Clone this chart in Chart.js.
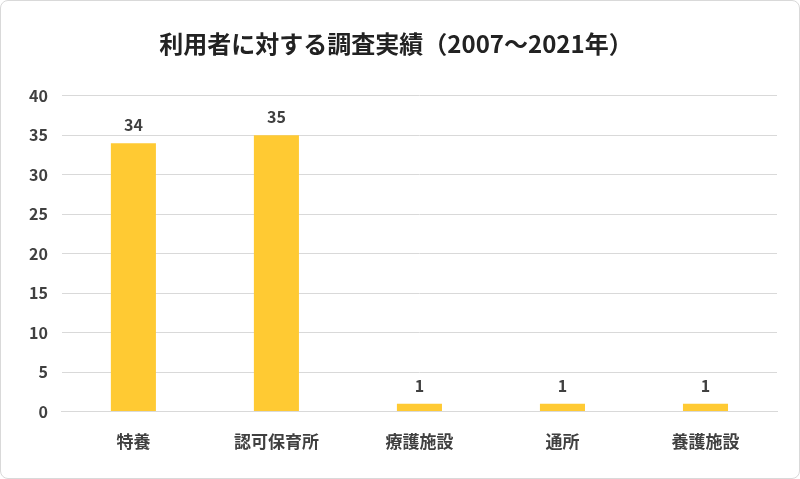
<!DOCTYPE html>
<html><head><meta charset="utf-8">
<script src="https://cdn.jsdelivr.net/npm/chart.js@4"></script>
<style>html,body{margin:0;padding:0;background:#fff}#w{width:800px;height:479px;box-sizing:border-box;border:1px solid #d9d9d9;border-radius:8px}</style>
</head><body><div id="w"><canvas id="c"></canvas></div>
<script>
const categories = ["特養","認可保育所","療護施設","通所","養護施設"];
const values = [34,35,1,1,1];
const titleText = "利用者に対する調査実績（2007～2021年）";
const F = "'Noto Sans CJK JP','Noto Sans',sans-serif";
const labelPlugin = {id:'lbl',afterDatasetsDraw(ch){const ctx=ch.ctx;const m=ch.getDatasetMeta(0);ctx.save();ctx.font="bold 16px "+F;ctx.fillStyle="#404040";ctx.textAlign="center";ctx.textBaseline="bottom";m.data.forEach((b,i)=>ctx.fillText(values[i],b.x,b.y-10));ctx.restore();}};
new Chart(document.getElementById('c'),{type:'bar',
data:{labels:categories,datasets:[{data:values,backgroundColor:'#FFCA33',barPercentage:0.315,categoryPercentage:1}]},
options:{responsive:true,maintainAspectRatio:false,animation:false,
layout:{padding:{left:14,right:22,top:10,bottom:14}},
plugins:{legend:{display:false},tooltip:{enabled:false},
title:{display:true,text:titleText,color:'#222',font:{family:F,size:24,weight:'bold'},padding:{top:18,bottom:38}}},
scales:{y:{min:0,max:40,ticks:{stepSize:5,color:'#404040',font:{family:F,size:16,weight:'bold'},padding:14},grid:{color:'#d9d9d9',drawTicks:false},border:{display:false}},
x:{ticks:{color:'#404040',font:{family:F,size:17,weight:'bold'},padding:12},grid:{display:false},border:{color:'#d9d9d9'}}}}
,plugins:[labelPlugin]});
</script></body></html>
